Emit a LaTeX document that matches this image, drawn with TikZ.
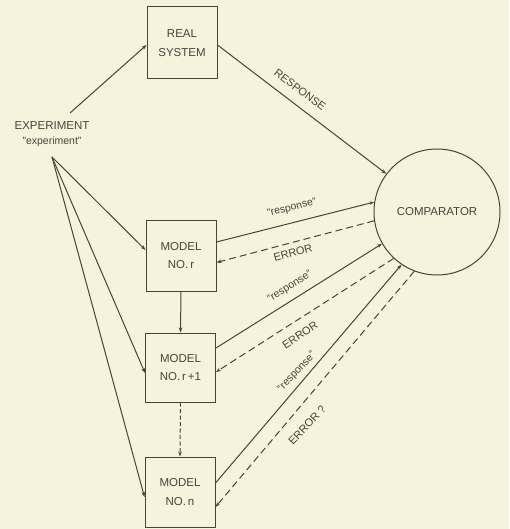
\documentclass[tikz,border=0pt]{standalone}
\usepackage{fontspec}
\setmainfont{Liberation Sans}
\usetikzlibrary{arrows.meta}
\definecolor{bg}{HTML}{F6F2DC}
\definecolor{ink}{HTML}{48443B}
\begin{document}
\begin{tikzpicture}[x=1pt,y=-1pt,
  every node/.style={text=ink},
  box/.style={draw=ink,line width=1pt,minimum width=70pt,align=center,
    font=\fontsize{11.5}{18.5}\selectfont,inner sep=0pt},
  conn/.style={draw=ink,line width=1pt,-{Stealth[length=5pt,width=3.6pt]}},
  dconn/.style={conn,dash pattern=on 7pt off 4pt},
  lbl/.style={font=\fontsize{10.5}{12}\selectfont,inner sep=0pt},
  ulbl/.style={font=\fontsize{11}{12}\selectfont,inner sep=0pt}]
\fill[bg] (0,0) rectangle (509,529);
\useasboundingbox (0,0) rectangle (509,529);

\node[box,minimum height=72pt] (real) at (182,43) {REAL\\SYSTEM};
\node[box,minimum height=71pt] (mr) at (181,255.5) {MODEL\\NO.\,r};
\node[box,minimum height=69pt] (mr1) at (180.5,367.5) {MODEL\\NO.\,r\,+1};
\node[box,minimum height=70pt] (mn) at (180,492) {MODEL\\NO.\,n};
\node[draw=ink,line width=1pt,circle,minimum size=126pt,inner sep=0pt,
  font=\fontsize{11.5}{14}\selectfont] (comp) at (437,212) {COMPARATOR};

\node[align=center,font=\fontsize{11.5}{15}\selectfont,inner sep=0pt] (exp) at (52,134)
  {EXPERIMENT\\{\fontsize{10.5}{15}\selectfont "experiment"}};
\coordinate (expt) at (70,113);
\coordinate (expb) at (52,157);

\draw[conn] (expt) -- ([yshift=-2pt]real.west);
\draw[conn] (expb) -- ([yshift=5.5pt]mr.west);
\draw[conn] (expb) -- ([yshift=-5.5pt]mr1.west);
\draw[conn] (expb) -- ([yshift=-5pt]mn.west);

\draw[conn] ([yshift=-2pt]real.east) -- (comp.143);
\draw[conn] ([yshift=13.5pt]mr.east) -- (comp.171);
\draw[dconn] (comp.188) -- ([yshift=-7pt]mr.east);
\draw[conn] ([yshift=19.5pt]mr1.east) -- (comp.210);
\draw[dconn] (comp.227) -- ([yshift=-4.5pt]mr1.east);
\draw[conn] ([yshift=9pt]mn.east) -- (comp.236);
\draw[dconn] (comp.249) -- ([yshift=-15pt]mn.east);

\draw[conn] (mr.south) -- (mr1.north);
\draw[conn,dash pattern=on 4pt off 2.5pt] (mr1.south) -- (mn.north);

\node[ulbl,rotate=-37] (lresp) at (300,90) {RESPONSE};
\node[lbl,rotate=14.5] (lr1) at (292,208) {"response"};
\node[ulbl,rotate=15] (le1) at (293,253) {ERROR};
\node[lbl,rotate=32] (lr2) at (290,287) {"response"};
\node[ulbl,rotate=34] (le2) at (300,335) {ERROR};
\node[lbl,rotate=47] (lr3) at (297,372) {"response"};
\node[ulbl,rotate=47] (le3) at (307,425) {ERROR ?};
\end{tikzpicture}
\end{document}
